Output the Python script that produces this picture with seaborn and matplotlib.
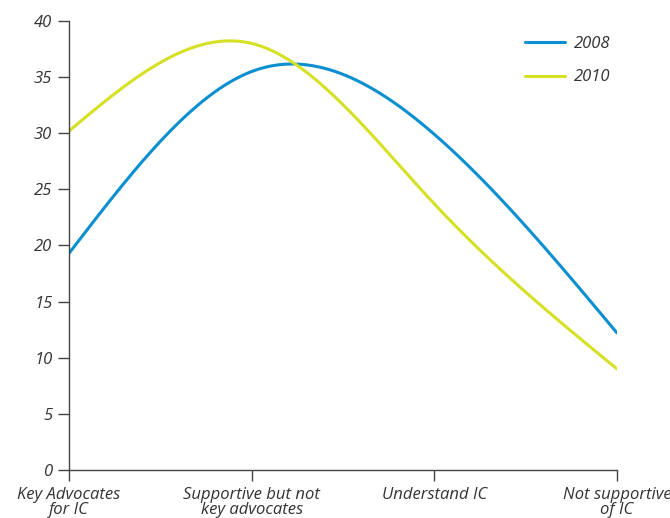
import numpy as np
import pandas as pd
import matplotlib
matplotlib.use("Agg")
import matplotlib.pyplot as plt
import seaborn as sns

# data
categories = ["Key Advocates\nfor IC", "Supportive but not\nkey advocates",
              "Understand IC", "Not supportive\nof IC"]
values_2008 = [19.3, 35.5, 29.9, 12.2]
values_2010 = [30.2, 38.0, 23.7, 9.0]
series_names = ["2008", "2010"]
y_ticks = [0, 5, 10, 15, 20, 25, 30, 35, 40]


def natural_spline(y, n=300):
    # natural cubic spline through equally spaced points (only for drawing a smooth curve)
    y = np.asarray(y, dtype=float)
    k = len(y)
    A = np.zeros((k, k))
    b = np.zeros(k)
    A[0, 0] = A[-1, -1] = 1
    for i in range(1, k - 1):
        A[i, i - 1:i + 2] = [1, 4, 1]
        b[i] = 6 * (y[i + 1] - 2 * y[i] + y[i - 1])
    M = np.linalg.solve(A, b)
    xs = np.linspace(0, k - 1, n)
    out = []
    for x in xs:
        i = min(int(x), k - 2)
        t = x - i
        a = 1 - t
        out.append(a * y[i] + t * y[i + 1]
                   + ((a ** 3 - a) * M[i] + (t ** 3 - t) * M[i + 1]) / 6)
    return xs, np.array(out)


frames = []
for name, vals in zip(series_names, [values_2008, values_2010]):
    xs, ys = natural_spline(vals)
    frames.append(pd.DataFrame({"x": xs, "y": ys, "year": name}))
df = pd.concat(frames)

sns.set_style("white")
plt.rcParams['font.family'] = ['Open Sans', 'DejaVu Sans']
plt.rcParams['font.style'] = 'italic'

fig = plt.figure(figsize=(6.7, 5.18), dpi=100)
ax = fig.add_axes([0.103, 0.0927, 0.818, 0.8668])

sns.lineplot(data=df, x="x", y="y", hue="year", sort=False,
             palette=["#0a8fd0", "#d6e024"], linewidth=2.2, ax=ax)

ax.set_xlim(0, 3)
ax.set_ylim(0, 40)
ax.set_xticks(range(len(categories)))
ax.set_xticklabels(categories, fontsize=12, color="#333333", style="italic",
                   linespacing=0.95)
ax.set_yticks(y_ticks)
ax.set_yticklabels([str(t) for t in y_ticks], fontsize=12, color="#333333",
                   style="italic")
ax.set_xlabel("")
ax.set_ylabel("")
ax.tick_params(axis="both", length=8, width=1, color="#444444",
               bottom=True, left=True)
ax.tick_params(axis="x", pad=4)
ax.tick_params(axis="y", pad=4)
for s in ["top", "right"]:
    ax.spines[s].set_visible(False)
for s in ["left", "bottom"]:
    ax.spines[s].set_color("#444444")
    ax.spines[s].set_linewidth(1)
    ax.spines[s].set_clip_on(False)

leg = ax.legend(loc="upper right", bbox_to_anchor=(1.015, 1.0), frameon=False,
                handlelength=2.4, handletextpad=0.5, labelspacing=1.05,
                prop={"size": 12, "style": "italic"})
for t in leg.get_texts():
    t.set_color("#333333")

fig.savefig("out.png", dpi=100)
